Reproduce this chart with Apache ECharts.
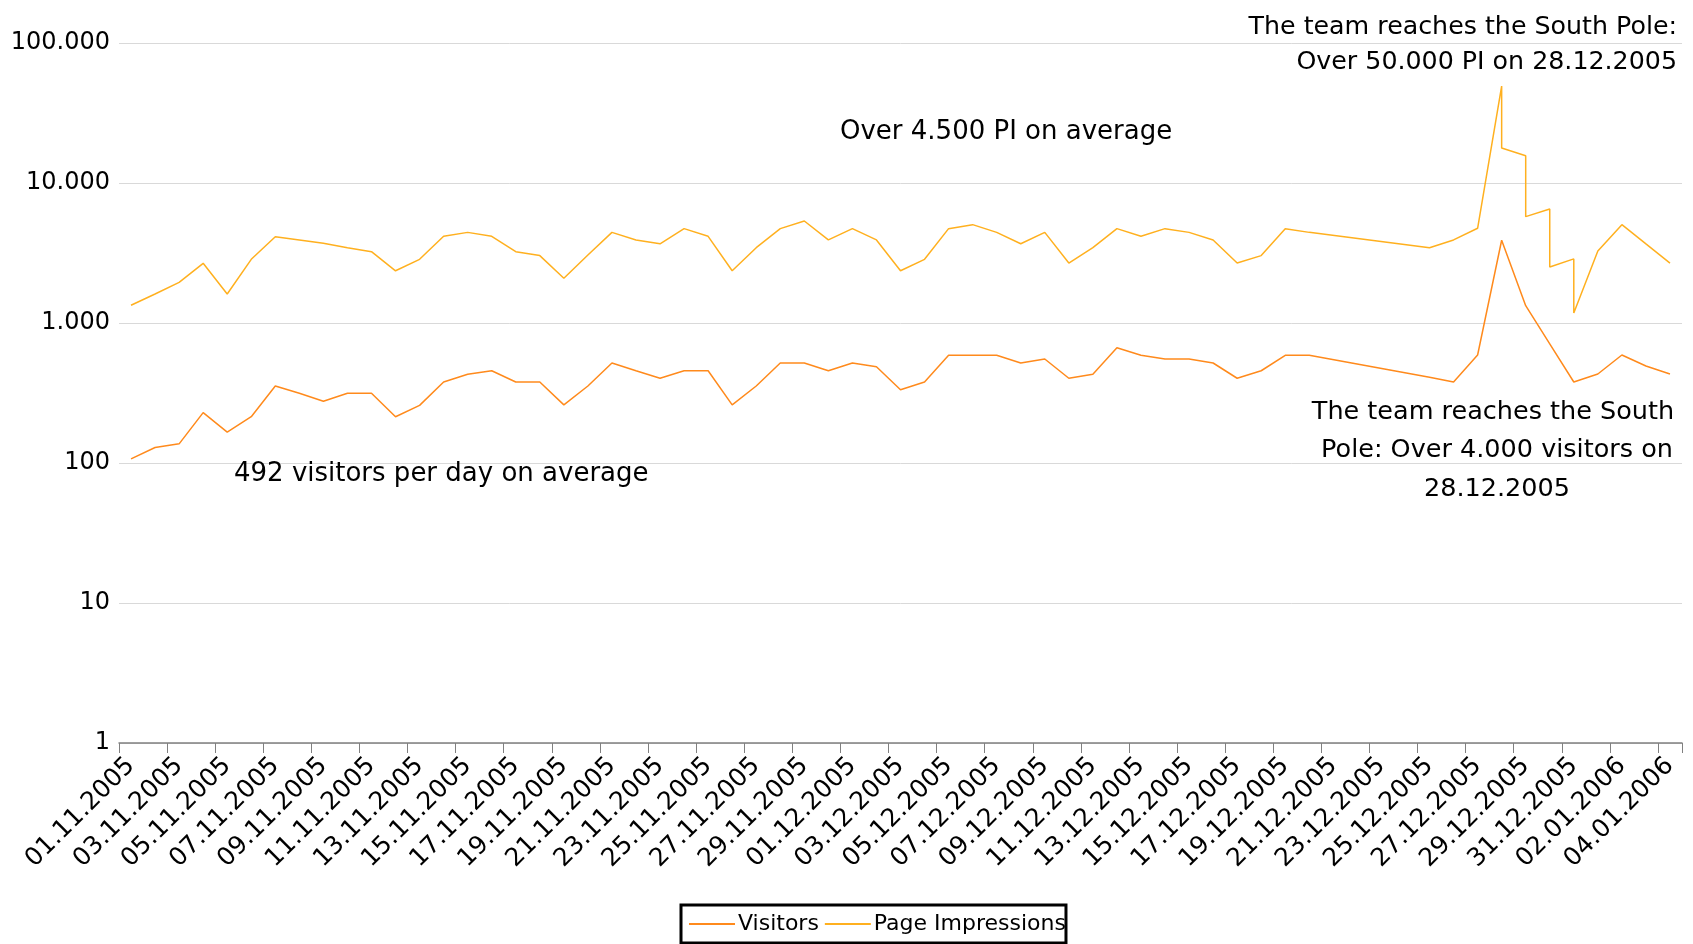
<!DOCTYPE html>
<html>
<head>
<meta charset="utf-8">
<script src="https://cdn.jsdelivr.net/npm/echarts@6/dist/echarts.min.js"></script>
<style>
  html, body { margin: 0; padding: 0; background: #ffffff; }
  #chart { width: 1693px; height: 944px; }
</style>
</head>
<body>
<div id="chart"></div>
<script>
// ---- Data ----
const dates = [
  '01.11.2005','02.11.2005','03.11.2005','04.11.2005','05.11.2005','06.11.2005','07.11.2005','08.11.2005','09.11.2005','10.11.2005',
  '11.11.2005','12.11.2005','13.11.2005','14.11.2005','15.11.2005','16.11.2005','17.11.2005','18.11.2005','19.11.2005','20.11.2005',
  '21.11.2005','22.11.2005','23.11.2005','24.11.2005','25.11.2005','26.11.2005','27.11.2005','28.11.2005','29.11.2005','30.11.2005',
  '01.12.2005','02.12.2005','03.12.2005','04.12.2005','05.12.2005','06.12.2005','07.12.2005','08.12.2005','09.12.2005','10.12.2005',
  '11.12.2005','12.12.2005','13.12.2005','14.12.2005','15.12.2005','16.12.2005','17.12.2005','18.12.2005','19.12.2005','20.12.2005',
  '21.12.2005','22.12.2005','23.12.2005','24.12.2005','25.12.2005','26.12.2005','27.12.2005','28.12.2005','29.12.2005','30.12.2005',
  '31.12.2005','01.01.2006','02.01.2006','03.01.2006','04.01.2006'
];

const visitors = [
  107, 129, 137, 229, 166, 214, 355, 315, 276, 315,
  315, 214, 258, 379, 430, 456, 379, 379, 260, 355,
  518, 456, 403, 456, 456, 260, 355, 518, 518, 456,
  518, 487, 334, 379, 588, 588, 588, 518, 553, 403,
  430, 666, 588, 553, 553, 518, 403, 456, 588, 588,
  null, null, null, null, 410, 379, 591, 3900, 1330, 710,
  379, 432, 591, 493, 432
];

const pageImpressions = [
  1340, 1610, 1950, 2670, 1610, 2850, 4130, 3920, 3710, 3450,
  3230, 2360, 2850, 4160, 4440, 4160, 3230, 3030, 2090, 3060,
  4440, 3920, 3680, 4720, 4160, 2360, 3450, 4720, 5350, 3920,
  4720, 3920, 2360, 2850, 4720, 5040, 4440, 3680, 4440, 2680,
  3450, 4720, 4160, 4720, 4440, 3920, 2680, 3030, 4720, 4440,
  null, null, null, null, 3450, 3920, 4750, 49300, 15660, 6520,
  2870, 3270, 5040, 3670, 2680
];

// second Page Impression reading on the same day (line drops vertically)
const piSecondDates = ['28.12.2005', '29.12.2005', '30.12.2005', '31.12.2005'];
const piSecondValues = [17780, 5750, 2510, 1180];

const yTicks = [1, 10, 100, 1000, 10000, 100000];

// ---- Build series data ----
function buildPairs(values, extraDates, extraValues) {
  const out = [];
  for (let i = 0; i < dates.length; i++) {
    if (values[i] === null) continue;
    out.push([dates[i], values[i]]);
    if (extraDates) {
      const k = extraDates.indexOf(dates[i]);
      if (k >= 0) out.push([dates[i], extraValues[k]]);
    }
  }
  return out;
}

function fmt(v) {
  const n = Math.round(v);
  return String(n).replace(/\B(?=(\d{3})+(?!\d))/g, '.');
}

const FONT = 'DejaVu Sans';
const VIS_COLOR = '#ff8a1c';
const PI_COLOR = '#ffb01f';

const chart = echarts.init(document.getElementById('chart'), null, { renderer: 'canvas' });

const annot = (text, x, y, align, size) => ({
  type: 'text',
  x: x, y: y,
  style: {
    text: text,
    fill: '#000',
    font: (size || 26) + 'px "' + FONT + '"',
    align: align || 'left',
    verticalAlign: 'middle'
  },
  z: 100
});

chart.setOption({
  animation: false,
  backgroundColor: '#ffffff',
  grid: { left: 119, right: 11, top: 43, bottom: 201, containLabel: false },
  xAxis: {
    type: 'category',
    data: dates,
    boundaryGap: true,
    axisLine: { show: true, lineStyle: { color: '#808080', width: 1.5 } },
    axisTick: { show: true, interval: 1, length: 10, lineStyle: { color: '#808080', width: 1 } },
    axisLabel: {
      interval: 1,
      rotate: 45,
      margin: 19,
      color: '#000',
      fontFamily: FONT,
      fontSize: 25
    },
    splitLine: { show: false }
  },
  yAxis: {
    type: 'log',
    logBase: 10,
    min: yTicks[0],
    max: yTicks[yTicks.length - 1],
    axisLine: { show: false },
    axisTick: { show: false },
    axisLabel: {
      formatter: fmt,
      color: '#000',
      fontFamily: FONT,
      fontSize: 24,
      margin: 9
    },
    splitLine: { show: true, lineStyle: { color: '#d9d9d9', width: 1 } }
  },
  legend: {
    left: 681,
    top: 905,
    orient: 'horizontal',
    icon: 'rect',
    itemWidth: 46,
    itemHeight: 2,
    itemGap: 6,
    borderColor: '#000',
    borderWidth: 3,
    padding: [8, 0, 8, 8],
    textStyle: { color: '#000', fontFamily: FONT, fontSize: 22, padding: [0, 0, 0, -2] },
    data: ['Visitors', 'Page Impressions']
  },
  series: [
    {
      name: 'Visitors',
      type: 'line',
      data: buildPairs(visitors),
      showSymbol: false,
      symbol: 'none',
      lineStyle: { color: VIS_COLOR, width: 1.5 },
      itemStyle: { color: VIS_COLOR },
      z: 3
    },
    {
      name: 'Page Impressions',
      type: 'line',
      data: buildPairs(pageImpressions, piSecondDates, piSecondValues),
      showSymbol: false,
      symbol: 'none',
      lineStyle: { color: PI_COLOR, width: 1.5 },
      itemStyle: { color: PI_COLOR },
      z: 2
    }
  ],
  graphic: [
    annot('The team reaches the South Pole:', 1677, 27, 'right', 25.3),
    annot('Over 50.000 PI on 28.12.2005', 1677, 62, 'right', 25.3),
    annot('Over 4.500 PI on average', 840, 132, 'left'),
    annot('492 visitors per day on average', 234, 474, 'left'),
    annot('The team reaches the South', 1493, 412, 'center', 25.5),
    annot('Pole: Over 4.000 visitors on', 1497, 450, 'center', 25.5),
    annot('28.12.2005', 1497, 489, 'center', 25.5)
  ]
});
</script>
</body>
</html>
